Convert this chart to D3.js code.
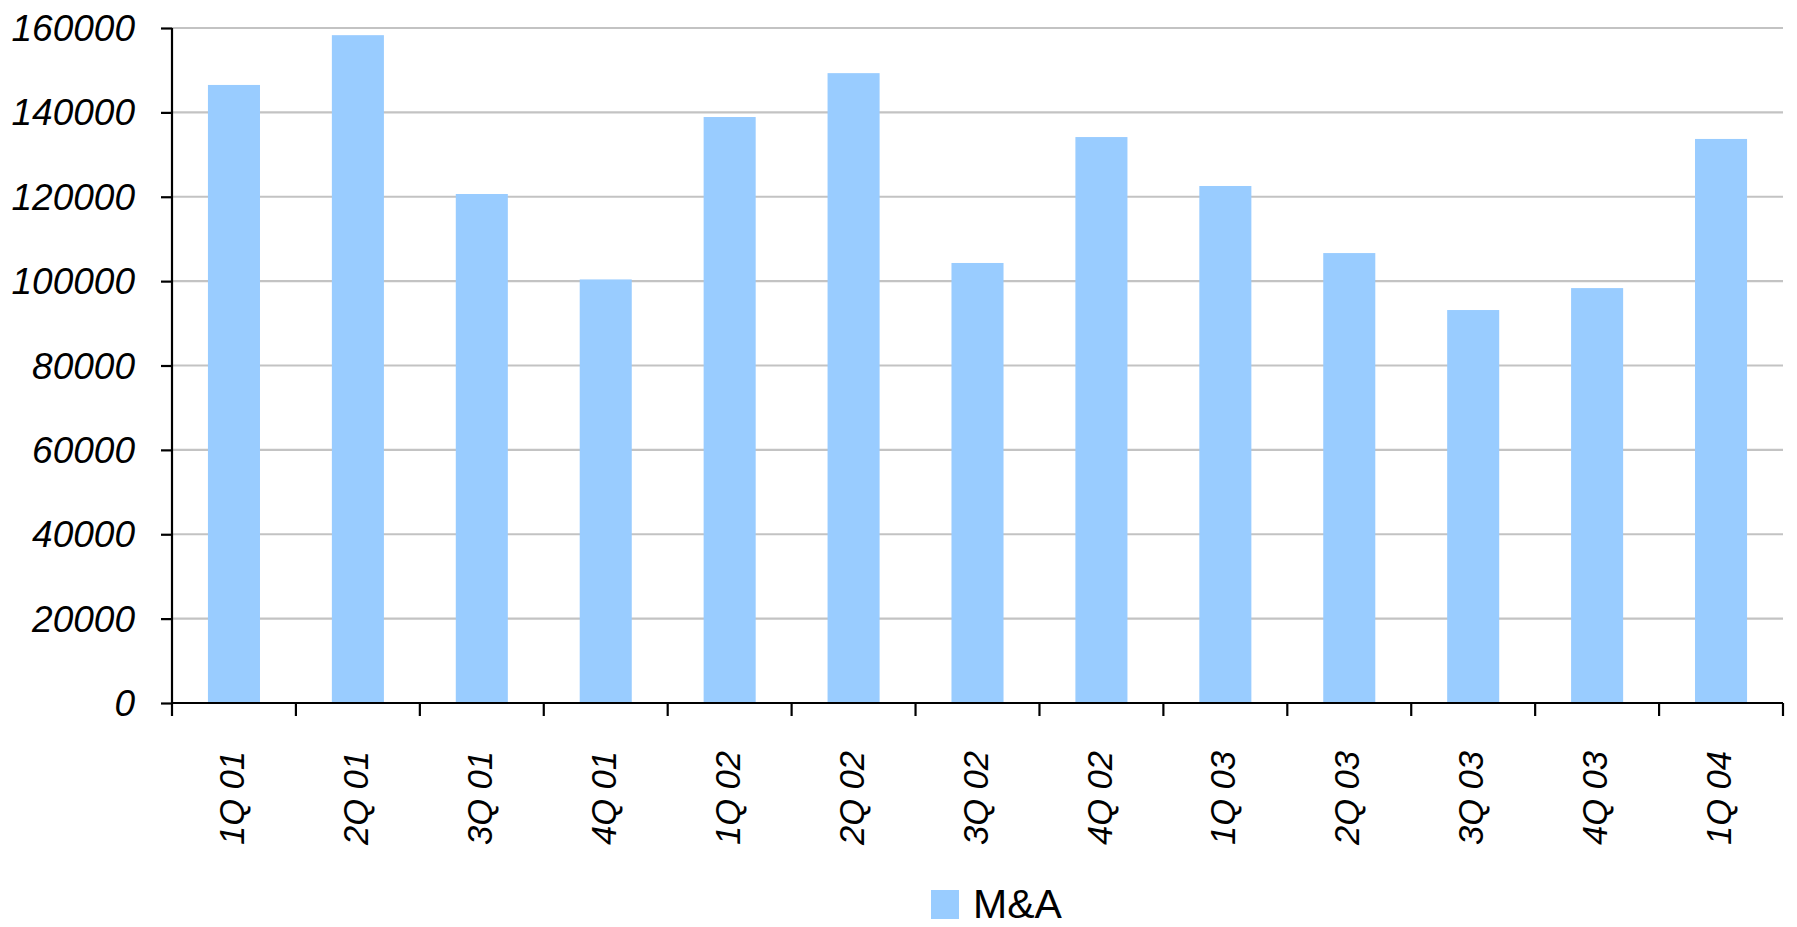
<!DOCTYPE html>
<html><head><meta charset="utf-8">
<script src="https://cdn.jsdelivr.net/npm/d3@7"></script>
<style>
html,body{margin:0;padding:0;background:#fff;}
svg{display:block;}
text{font-family:"Liberation Sans",Arial,sans-serif;fill:#000;}
</style></head>
<body>
<svg id="chart" width="1797" height="927"></svg>
<script>
const categories = ["1Q 01","2Q 01","3Q 01","4Q 01","1Q 02","2Q 02","3Q 02","4Q 02","1Q 03","2Q 03","3Q 03","4Q 03","1Q 04"];
const maValues = [146500,158300,120650,100400,138900,149300,104300,134150,122550,106650,93150,98350,133700];
const yTicks = [0,20000,40000,60000,80000,100000,120000,140000,160000];
const seriesName = "M&A";

(function(){
const svg = d3.select("#chart");
const pLeft = 172, pRight = 1783, pTop = 28, pBottom = 703;
const barColor = "#99ccff";

const x = d3.scaleBand().domain(categories).range([pLeft, pRight]).paddingInner(0.58).paddingOuter(0.29);
const cat = d3.scaleBand().domain(categories).range([pLeft, pRight]).padding(0);
const y = d3.scaleLinear().domain([0,160000]).range([pBottom, pTop]);

// gridlines
svg.append("g").selectAll("line").data(yTicks.filter(d=>d>0)).join("line")
  .attr("x1", pLeft).attr("x2", pRight)
  .attr("y1", d=>y(d)).attr("y2", d=>y(d))
  .attr("stroke", "#c3c3c3").attr("stroke-width", 2.2);

// bars
svg.append("g").selectAll("rect").data(maValues).join("rect")
  .attr("x", (d,i)=>x(categories[i]))
  .attr("width", x.bandwidth())
  .attr("y", d=>y(d))
  .attr("height", d=>y(0)-y(d))
  .attr("fill", barColor);

// y axis
const yAxis = svg.append("g").attr("transform", `translate(${pLeft},0)`)
  .call(d3.axisLeft(y).tickValues(yTicks).tickSize(11).tickPadding(26).tickFormat(d3.format("d")));
yAxis.select(".domain").attr("stroke","#000").attr("stroke-width",2.2).attr("d", `M0,${pTop}V${pBottom}`);
yAxis.selectAll(".tick line").attr("stroke","#000").attr("stroke-width",2.2);
yAxis.selectAll(".tick text").attr("font-size", 37).attr("font-style","italic")
  .attr("font-family", '"Liberation Sans",Arial,sans-serif').attr("fill","#000").attr("dy","0.34em");

// x axis
const xg = svg.append("g");
xg.append("line").attr("x1", pLeft).attr("x2", pRight).attr("y1", pBottom).attr("y2", pBottom)
  .attr("stroke","#000").attr("stroke-width",2.2);
const bounds = categories.map(c=>cat(c)).concat([cat(categories[categories.length-1]) + cat.bandwidth()]);
xg.selectAll("line.tk").data(bounds).join("line").attr("class","tk")
  .attr("x1", d=>d).attr("x2", d=>d).attr("y1", pBottom).attr("y2", pBottom+13)
  .attr("stroke","#000").attr("stroke-width",2.2);
xg.selectAll("text").data(categories).join("text")
  .attr("transform", d=>`translate(${cat(d)+cat.bandwidth()/2-2},751) rotate(-90)`)
  .attr("text-anchor","end").attr("dy","0.35em")
  .attr("font-size", 34.5).attr("font-style","italic")
  .text(d=>d);

// legend
const lg = svg.append("g");
lg.append("rect").attr("x", 931).attr("y", 890).attr("width", 28).attr("height", 29).attr("fill", barColor);
lg.append("text").attr("x", 973).attr("y", 918).attr("font-size", 41).text(seriesName);
})();
</script>
</body></html>
